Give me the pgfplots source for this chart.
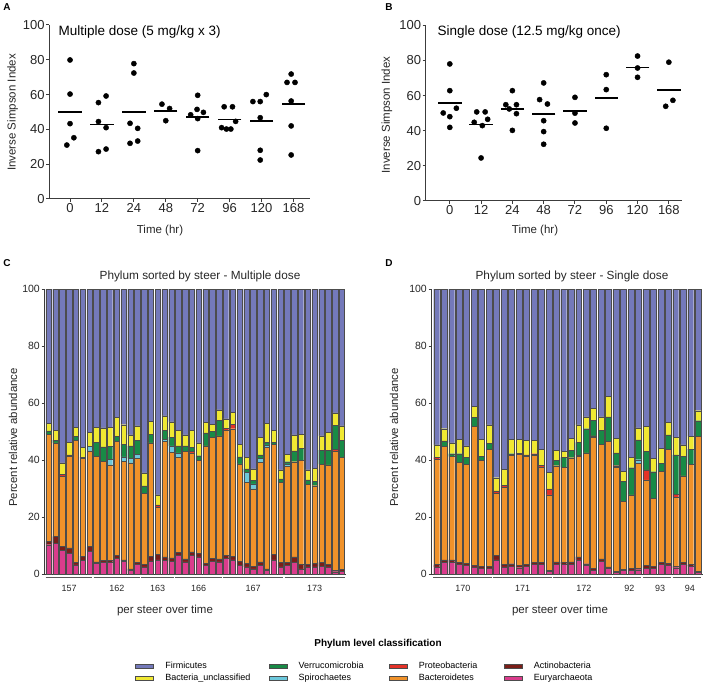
\documentclass[border=0pt]{standalone}
\usepackage{pgfplots}
\pgfplotsset{compat=1.18}
\usepackage{pgfplotstable}
\usepackage{fontspec}
\setmainfont{Liberation Sans}

\definecolor{cFir}{RGB}{116,121,186}
\definecolor{cUnc}{RGB}{240,232,50}
\definecolor{cVer}{RGB}{24,138,70}
\definecolor{cSpi}{RGB}{108,200,220}
\definecolor{cPro}{RGB}{228,50,40}
\definecolor{cBac}{RGB}{240,146,42}
\definecolor{cAct}{RGB}{122,30,24}
\definecolor{cEur}{RGB}{218,60,140}
\definecolor{axgray}{RGB}{60,60,60}
\definecolor{grpline}{RGB}{90,90,90}

\pgfplotstableread{
x y
0 79.9
0 60.3
0 43.3
0.12 35.2
-0.10 31.0
0.89 55.4
1.13 59.2
0.89 44.5
1.13 41.0
1.13 28.7
0.89 27.2
2 77.8
2 72.4
1.88 43.5
2.12 40.6
2.12 33.3
1.88 32.0
2.88 54.5
3.12 52.0
3 45.0
4 59.6
3.98 51.5
4.18 49.8
3.78 48.4
4 46.2
4 27.8
4.83 53.0
5.09 53.0
5.19 44.6
4.75 41.0
4.90 40.2
5.04 40.2
5.73 56.0
5.96 56.0
6.15 60.0
5.96 46.7
5.96 28.0
5.96 22.4
6.93 71.8
6.80 67.0
7.05 67.0
6.93 56.3
6.93 42.0
6.93 25.3
}\scatA
\pgfplotstableread{
x y
0 50.0
1 42.8
2 49.8
3 50.8
4 47.0
5 45.7
6 44.8
7 54.6
}\meanA
\pgfplotstableread{
x y
0 78.0
0 62.8
0.21 52.8
-0.21 50.1
0 48.0
0 41.9
0.78 44.8
0.86 50.7
1.13 50.7
1.21 46.5
1.04 42.9
1 24.5
2 62.8
1.79 54.8
2.13 54.8
1.90 52.4
2.13 49.7
2 40.2
3 67.2
2.87 57.7
3.12 55.2
3 45.7
3 39.5
3 32.3
4 59.0
4 50.0
4 44.4
5 71.9
5 63.4
5 41.4
6 82.5
6 75.7
6 70.4
7 79.0
7.13 57.3
6.90 53.9
}\scatB
\pgfplotstableread{
x y
0 55.8
1 43.5
2 52.2
3 49.5
4 51.0
5 58.8
6 76.0
7 63.4
}\meanB

% E Euryarchaeota, A Actinobacteria, B Bacteroidetes, P Proteobacteria,
% S Spirochaetes, V Verrucomicrobia, U Bacteria_unclassified, F Firmicutes
\pgfplotstableread{
x E A B P S V U F
0 10.3 1.2 37.5 0 0 1.2 2.7 47.1
1 10.8 2.4 32.8 0 0 1.0 3.3 49.7
2 8.2 1.6 24.5 0.7 0 0 4.0 61.0
3 7.2 2.0 32.1 0.5 0 0 4.4 53.8
4 3.2 1.0 42.7 0 0 1.5 3.1 48.5
5 4.9 1.4 34.2 0.5 0 0 3.4 55.6
6 8.0 1.6 33.6 0 1.5 0 5.0 50.3
7 3.7 0.6 37.0 0 0 4.9 5.3 48.5
8 4.0 0.8 34.8 0 0 5.0 6.7 48.7
9 4.0 0.8 33.5 0 2.0 4.5 6.7 48.5
10 5.4 1.2 39.9 0 0 1.8 6.7 45.0
11 4.5 0.5 34.6 0 1.5 4.5 6.8 47.6
12 1.2 0.6 37.2 0 1.5 4.5 3.8 51.2
13 3.3 0.8 36.5 0 1.5 4.7 5.2 48.0
14 2.5 0.8 25.1 0 0 2.5 4.6 64.5
15 4.6 1.5 39.9 0 0 3.0 4.6 46.4
16 5.0 1.8 16.5 1.0 0 0 3.5 72.2
17 4.8 1.2 40.5 0 0.8 3.0 5.2 44.5
18 4.5 1.2 37.0 0 2.3 3.0 5.4 46.6
19 6.6 1.0 33.4 0 1.5 2.5 5.3 49.7
20 4.3 1.0 37.7 0 0 2.0 3.8 51.2
21 6.6 1.2 34.7 0.5 0 1.5 5.8 49.7
22 6.0 1.3 32.7 0 0 1.5 4.5 54.0
23 3.0 0.7 41.3 0 0 4.5 3.7 46.8
24 4.5 1.0 42.5 0 0 2.0 2.6 47.4
25 4.3 1.0 43.2 0 0 5.5 3.6 42.4
26 5.4 1.2 43.9 0.7 0 0 3.2 45.6
27 5.0 1.2 44.8 1.5 0 0 4.2 43.3
28 3.0 1.5 34.1 0 0 2.5 4.3 54.6
29 2.5 1.2 28.5 0 3.5 1.2 4.1 59.0
30 1.8 1.0 27.1 0 1.7 1.2 4.1 63.1
31 3.0 1.3 34.9 0 1.4 1.2 6.1 52.1
32 1.2 0.6 42.7 0 0.8 1.0 6.5 47.2
33 5.0 1.8 38.7 0 0 0.8 4.0 49.7
34 2.5 1.5 28.2 0 0 1.2 3.1 63.5
35 3.0 1.0 33.8 0 0.8 0.8 2.6 58.0
36 4.0 2.0 33.4 0 0 3.8 5.6 51.2
37 1.8 1.6 36.6 0 0 4.0 5.0 51.0
38 2.5 1.0 28.0 0 0 1.5 3.5 63.5
39 2.5 1.2 27.3 0 0 1.5 4.5 63.0
40 2.6 1.5 34.4 0 0 5.0 5.0 51.5
41 2.5 1.0 34.8 0 0 5.0 6.4 50.3
42 0.8 0.6 41.8 0.5 0 8.4 4.4 43.5
43 1.0 0.6 39.4 0 0 6.0 5.0 48.0
}\dataC

\pgfplotstableread{
x E A B P S V U F
0 2.5 0.8 36.9 0.7 0 0 4.4 54.7
1 4.0 1.0 39.7 0 0 2.0 4.3 49.0
2 4.0 1.0 36.2 0 0 1.0 3.8 54.0
3 3.3 0.8 35.1 0 0 3.0 5.1 52.7
4 3.0 0.7 34.7 0 0 2.5 4.1 55.0
5 2.5 0.6 48.7 0 0 3.1 3.9 41.2
6 2.0 0.7 37.1 0 0 1.5 6.0 52.7
7 2.0 0.8 41.0 0 0 2.0 6.5 47.7
8 5.0 1.5 21.9 0.8 0 0 4.6 66.2
9 2.5 1.0 27.0 0.6 0 0 5.7 63.2
10 2.8 0.8 38.0 0 0 0.6 5.1 52.7
11 2.2 0.8 38.9 0.5 0 0 4.9 52.7
12 2.6 0.7 37.9 0.6 0 0 5.1 53.1
13 3.3 0.8 37.5 0.6 0 0 4.7 53.1
14 3.3 0.8 33.5 0.6 0 0 5.6 56.2
15 1.0 0.4 26.4 2.1 0 0 5.7 64.4
16 3.5 0.8 33.7 0 0 1.8 3.7 56.5
17 3.5 0.7 33.2 0 0 3.5 2.1 57.0
18 3.5 0.8 36.5 0 0 2.5 4.4 52.3
19 5.0 1.0 35.2 0 0.5 4.5 6.1 47.7
20 3.0 0.6 38.9 0 0 8.5 4.1 44.9
21 1.3 0.6 46.1 0.5 0 5.5 4.1 41.9
22 4.5 0.8 40.2 0 0 5.0 4.6 44.9
23 2.0 0.5 44.0 0 0 8.6 7.3 37.6
24 0.5 0.4 36.5 0.6 0 4.5 5.2 52.3
25 1.2 0.5 23.9 0 0 7.0 3.4 64.0
26 1.4 0.5 25.9 0 0 9.5 3.7 59.0
27 1.5 0.5 36.8 0 1.3 7.0 4.2 48.7
28 2.0 1.0 30.0 3.5 0 6.5 8.9 48.1
29 2.0 0.6 23.9 0 0 9.4 4.7 59.4
30 3.4 0.6 32.0 0 0 2.8 5.2 56.0
31 3.2 0.6 40.0 0 0 5.0 4.5 46.7
32 2.2 0.5 24.1 1.2 0 13.8 6.2 52.0
33 3.5 0.7 30.2 0 0 6.8 4.1 54.7
34 2.7 0.6 35.2 0 0 5.3 4.5 51.7
35 0.5 0.5 47.3 0 0 5.5 3.5 42.7
}\dataD

\pgfplotsset{
  scatterpanel/.style={
    scale only axis, anchor=south west,
    ymin=0, ymax=100,
    axis x line=bottom, axis y line=left,
    axis line style={-, axgray, line width=1pt},
    tick align=outside, major tick length=3pt,
    tick style={axgray, line width=1pt},
    xtick={0,...,7}, xticklabels={0,12,24,48,72,96,120,168},
    ytick={0,20,...,100},
    tick label style={font=\fontsize{13}{15}\selectfont, text=black!85, inner sep=1.5pt},
    /pgf/number format/assume math mode=true,
    clip=false},
  barpanel/.style={
    scale only axis, anchor=south west,
    ymin=0, ymax=100, ybar stacked, bar width=0.8,
    axis x line=bottom, axis y line=left,
    axis line style={-, axgray, line width=0.8pt},
    xtick=\empty, ytick={0,20,...,100},
    tick align=outside, major tick length=3pt,
    tick style={axgray, line width=0.8pt},
    tick label style={font=\fontsize{10.5}{12}\selectfont, text=black!85, inner sep=1.5pt},
    /pgf/number format/assume math mode=true,
    clip=false},
  seg/.style={draw=black!70, line width=0.3pt, fill=#1},
}
\tikzset{
  grp/.style={draw=grpline, line width=1pt},
  grplab/.style={font=\fontsize{9}{11}\selectfont, text=black!85},
}

\begin{document}
\begin{tikzpicture}
\path[use as bounding box] (0pt,0pt) rectangle (708pt,686pt);

% ---------- Panel A ----------
\begin{axis}[scatterpanel, at={(49.3pt,487pt)}, width=260.7pt, height=174pt, xmin=-0.65, xmax=7.52]
\addplot[only marks, mark=*, mark size=2.6pt, black] table[x=x,y=y] {\scatA};
\addplot[only marks, mark=-, mark size=11.7pt, mark options={line width=1.8pt}, black] table[x=x,y=y] {\meanA};
\end{axis}

% ---------- Panel B ----------
\begin{axis}[scatterpanel, at={(425.7pt,485pt)}, width=256.6pt, height=175.7pt, xmin=-0.77, xmax=7.43]
\addplot[only marks, mark=*, mark size=2.6pt, black] table[x=x,y=y] {\scatB};
\addplot[only marks, mark=-, mark size=11.7pt, mark options={line width=1.8pt}, black] table[x=x,y=y] {\meanB};
\end{axis}

% ---------- Panel C ----------
\begin{axis}[barpanel, at={(44.5pt,112pt)}, width=301.5pt, height=285pt, xmin=-0.6, xmax=43.6]
\addplot[seg=cEur] table[x=x,y=E] {\dataC};
\addplot[seg=cAct] table[x=x,y=A] {\dataC};
\addplot[seg=cBac] table[x=x,y=B] {\dataC};
\addplot[seg=cPro] table[x=x,y=P] {\dataC};
\addplot[seg=cSpi] table[x=x,y=S] {\dataC};
\addplot[seg=cVer] table[x=x,y=V] {\dataC};
\addplot[seg=cUnc] table[x=x,y=U] {\dataC};
\addplot[seg=cFir] table[x=x,y=F] {\dataC};
\draw[grp] (axis cs:-0.45,-1.4) -- (axis cs:6.4,-1.4);
\draw[grp] (axis cs:6.6,-1.4) -- (axis cs:13.4,-1.4);
\draw[grp] (axis cs:13.6,-1.4) -- (axis cs:18.4,-1.4);
\draw[grp] (axis cs:18.6,-1.4) -- (axis cs:25.4,-1.4);
\draw[grp] (axis cs:25.6,-1.4) -- (axis cs:34.4,-1.4);
\draw[grp] (axis cs:34.6,-1.4) -- (axis cs:43.45,-1.4);
\node[grplab] at (axis cs:3,-4.9) {157};
\node[grplab] at (axis cs:10,-4.9) {162};
\node[grplab] at (axis cs:16,-4.9) {163};
\node[grplab] at (axis cs:22,-4.9) {166};
\node[grplab] at (axis cs:30,-4.9) {167};
\node[grplab] at (axis cs:39,-4.9) {173};
\end{axis}

% ---------- Panel D ----------
\begin{axis}[barpanel, at={(431.5pt,112pt)}, width=271.1pt, height=285pt, xmin=-0.7, xmax=35.6]
\addplot[seg=cEur] table[x=x,y=E] {\dataD};
\addplot[seg=cAct] table[x=x,y=A] {\dataD};
\addplot[seg=cBac] table[x=x,y=B] {\dataD};
\addplot[seg=cPro] table[x=x,y=P] {\dataD};
\addplot[seg=cSpi] table[x=x,y=S] {\dataD};
\addplot[seg=cVer] table[x=x,y=V] {\dataD};
\addplot[seg=cUnc] table[x=x,y=U] {\dataD};
\addplot[seg=cFir] table[x=x,y=F] {\dataD};
\draw[grp] (axis cs:-0.45,-1.4) -- (axis cs:7.4,-1.4);
\draw[grp] (axis cs:7.6,-1.4) -- (axis cs:15.4,-1.4);
\draw[grp] (axis cs:15.6,-1.4) -- (axis cs:23.4,-1.4);
\draw[grp] (axis cs:23.6,-1.4) -- (axis cs:27.4,-1.4);
\draw[grp] (axis cs:27.6,-1.4) -- (axis cs:31.4,-1.4);
\draw[grp] (axis cs:31.6,-1.4) -- (axis cs:35.45,-1.4);
\node[grplab] at (axis cs:3.5,-4.9) {170};
\node[grplab] at (axis cs:11.5,-4.9) {171};
\node[grplab] at (axis cs:19.7,-4.9) {172};
\node[grplab] at (axis cs:25.8,-4.9) {92};
\node[grplab] at (axis cs:29.9,-4.9) {93};
\node[grplab] at (axis cs:33.9,-4.9) {94};
\end{axis}

% ---------- Legend ----------
\begin{axis}[at={(0pt,0pt)}, anchor=south west, scale only axis, width=708pt, height=60pt,
  hide axis, xmin=0, xmax=1, ymin=0, ymax=1,
  legend columns=4,
  legend style={at={(0.1907,0.2308)}, anchor=west, draw=none, fill=none, inner sep=0pt,
    font=\fontsize{9}{10}\selectfont, row sep=3.8pt,
    nodes={inner sep=0pt, text height=6.5pt, text depth=2pt},
    /tikz/every odd column/.append style={column sep=11.7pt},
    /tikz/every even column/.append style={column sep=0pt}},
  legend image code/.code={\draw[#1, draw=black!70, line width=0.4pt] (0pt,-2pt) rectangle (18pt,2pt);}]
\addplot[draw=none, forget plot] coordinates {(0.5,0.5)};
\addlegendimage{fill=cFir}\addlegendentry{\makebox[103.3pt][l]{Firmicutes}}
\addlegendimage{fill=cVer}\addlegendentry{\makebox[90pt][l]{Verrucomicrobia}}
\addlegendimage{fill=cPro}\addlegendentry{\makebox[85pt][l]{Proteobacteria}}
\addlegendimage{fill=cAct}\addlegendentry{\makebox[60pt][l]{Actinobacteria}}
\addlegendimage{fill=cUnc}\addlegendentry{\makebox[103.3pt][l]{Bacteria\_unclassified}}
\addlegendimage{fill=cSpi}\addlegendentry{\makebox[90pt][l]{Spirochaetes}}
\addlegendimage{fill=cBac}\addlegendentry{\makebox[85pt][l]{Bacteroidetes}}
\addlegendimage{fill=cEur}\addlegendentry{\makebox[60pt][l]{Euryarchaeota}}
\end{axis}

% ---------- Text ----------
\node[font=\bfseries\fontsize{10}{12}\selectfont] at (7pt,679pt) {A};
\node[font=\bfseries\fontsize{10}{12}\selectfont] at (389pt,679pt) {B};
\node[font=\bfseries\fontsize{10}{12}\selectfont] at (7pt,423pt) {C};
\node[font=\bfseries\fontsize{10}{12}\selectfont] at (389pt,423pt) {D};
\node[anchor=west, font=\fontsize{13.5}{15}\selectfont] at (55pt,654pt) {Multiple dose (5 mg/kg x 3)};
\node[anchor=west, font=\fontsize{13.5}{15}\selectfont] at (434pt,653.7pt) {Single dose (12.5 mg/kg once)};
\node[rotate=90, font=\fontsize{11.5}{13}\selectfont, text=black!85] at (12.7pt,573.5pt) {Inverse Simpson Index};
\node[rotate=90, font=\fontsize{11.5}{13}\selectfont, text=black!85] at (387pt,571pt) {Inverse Simpson Index};
\node[font=\fontsize{11.5}{13}\selectfont, text=black!85] at (160pt,455pt) {Time (hr)};
\node[font=\fontsize{11.5}{13}\selectfont, text=black!85] at (535pt,455pt) {Time (hr)};
\node[font=\fontsize{11.8}{13}\selectfont, text=black!85] at (200pt,409.3pt) {Phylum sorted by steer - Multiple dose};
\node[font=\fontsize{11.8}{13}\selectfont, text=black!85] at (572pt,409.3pt) {Phylum sorted by steer - Single dose};
\node[rotate=90, font=\fontsize{11.4}{13}\selectfont, text=black!85] at (13pt,248.5pt) {Percent relative abundance};
\node[rotate=90, font=\fontsize{11.4}{13}\selectfont, text=black!85] at (394pt,248.5pt) {Percent relative abundance};
\node[font=\fontsize{11.5}{13}\selectfont, text=black!85] at (165pt,75pt) {per steer over time};
\node[font=\fontsize{11.5}{13}\selectfont, text=black!85] at (560pt,75pt) {per steer over time};
\node[font=\bfseries\fontsize{10}{12}\selectfont] at (378pt,41.7pt) {Phylum level classification};
\end{tikzpicture}
\end{document}
